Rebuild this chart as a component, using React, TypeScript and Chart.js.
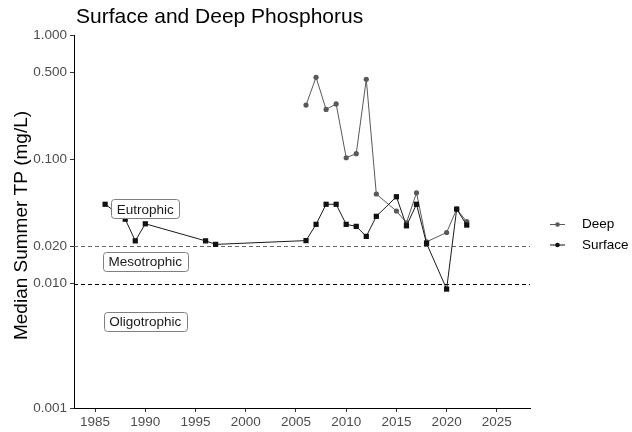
import React, { useEffect, useRef } from "react";
import { Chart, registerables } from "chart.js";

Chart.register(...registerables);

const titleText = "Surface and Deep Phosphorus";
const yAxisTitle = "Median Summer TP (mg/L)";

const surfaceYears = [1986, 1988, 1989, 1990, 1996, 1997, 2006, 2007, 2008, 2009, 2010, 2011, 2012, 2013, 2015, 2016, 2017, 2018, 2020, 2021, 2022];
const surfaceTP = [0.0435, 0.033, 0.0221, 0.0303, 0.0221, 0.0207, 0.0222, 0.03, 0.0435, 0.0435, 0.03, 0.0289, 0.024, 0.0348, 0.05, 0.0292, 0.0435, 0.0211, 0.00905, 0.0398, 0.0296];

const deepYears = [2006, 2007, 2008, 2009, 2010, 2011, 2012, 2013, 2015, 2016, 2017, 2018, 2020, 2021, 2022];
const deepTP = [0.273, 0.457, 0.252, 0.279, 0.103, 0.111, 0.44, 0.0526, 0.0384, 0.0309, 0.0538, 0.0217, 0.0258, 0.0398, 0.0315];

const yTicks = [0.001, 0.01, 0.02, 0.1, 0.5, 1];
const xTicks = [1985, 1990, 1995, 2000, 2005, 2010, 2015, 2020, 2025];

const thresholdValues = [0.02, 0.01];
const thresholdColors = ["#666666", "#000000"];

const trophicLabels = ["Eutrophic", "Mesotrophic", "Oligotrophic"];
const trophicX = 1990;
const trophicY = [0.04, 0.015, 0.005];

const legendLabels = ["Deep", "Surface"];
const legendColors = ["#595959", "#111111"];

const FONT = "'Liberation Sans', Arial, sans-serif";

const overlayPlugin = {
  id: "overlay",
  beforeDatasetsDraw(chart: any) {
    const { ctx, chartArea, scales } = chart;
    ctx.save();
    ctx.lineWidth = 1.2;
    ctx.setLineDash([4, 3]);
    thresholdValues.forEach((v, i) => {
      const y = Math.round(scales.y.getPixelForValue(v)) + 0.5;
      ctx.strokeStyle = thresholdColors[i];
      ctx.beginPath();
      ctx.moveTo(chartArea.left, y);
      ctx.lineTo(chartArea.right, y);
      ctx.stroke();
    });
    ctx.restore();
  },
  afterDatasetsDraw(chart: any) {
    const { ctx, scales } = chart;
    ctx.save();
    ctx.font = `13.5px ${FONT}`;
    ctx.textAlign = "center";
    ctx.textBaseline = "middle";
    trophicLabels.forEach((label, i) => {
      const cx = scales.x.getPixelForValue(trophicX);
      const cy = scales.y.getPixelForValue(trophicY[i]);
      const w = ctx.measureText(label).width + 11;
      const h = 19;
      const x0 = Math.round(cx - w / 2) + 0.5;
      const y0 = Math.round(cy - h / 2) + 0.5;
      ctx.beginPath();
      (ctx as any).roundRect(x0, y0, Math.round(w), h, 3);
      ctx.fillStyle = "#ffffff";
      ctx.fill();
      ctx.strokeStyle = "#7f7f7f";
      ctx.lineWidth = 1;
      ctx.stroke();
      ctx.fillStyle = "#1a1a1a";
      ctx.fillText(label, cx, cy + 1);
    });
    ctx.restore();
  },
  afterDraw(chart: any) {
    const { ctx, chartArea } = chart;
    ctx.save();
    ctx.font = `21px ${FONT}`;
    ctx.fillStyle = "#000000";
    ctx.textAlign = "left";
    ctx.textBaseline = "alphabetic";
    ctx.fillText(titleText, chartArea.left + 2, 23);
    ctx.save();
    ctx.translate(27, (chartArea.top + chartArea.bottom) / 2 + 4);
    ctx.rotate(-Math.PI / 2);
    ctx.font = `19px ${FONT}`;
    ctx.textAlign = "center";
    ctx.textBaseline = "alphabetic";
    ctx.fillText(yAxisTitle, 0, 0);
    ctx.restore();
    const ys = [224.5, 245];
    ctx.font = `13.5px ${FONT}`;
    ctx.textBaseline = "middle";
    legendLabels.forEach((label, i) => {
      const y = ys[i];
      ctx.strokeStyle = legendColors[i];
      ctx.lineWidth = 1;
      ctx.beginPath();
      ctx.moveTo(550, y);
      ctx.lineTo(565, y);
      ctx.stroke();
      ctx.fillStyle = legendColors[i];
      ctx.beginPath();
      ctx.arc(557.5, y, 2.3, 0, Math.PI * 2);
      ctx.fill();
      ctx.fillStyle = "#000000";
      ctx.fillText(label, 582, y);
    });
    ctx.restore();
  },
};

export default function App() {
  const ref = useRef<HTMLCanvasElement | null>(null);
  useEffect(() => {
    if (!ref.current) return;
    const chart = new Chart(ref.current, {
      type: "line",
      data: {
        datasets: [
          {
            label: "Surface",
            data: surfaceYears.map((x, i) => ({ x, y: surfaceTP[i] })),
            borderColor: "#1a1a1a",
            backgroundColor: "#111111",
            pointBackgroundColor: "#111111",
            pointBorderColor: "#111111",
            pointStyle: "rect",
            pointRadius: 3.7,
            pointBorderWidth: 0,
            borderWidth: 1,
            order: 0,
          },
          {
            label: "Deep",
            data: deepYears.map((x, i) => ({ x, y: deepTP[i] })),
            borderColor: "#595959",
            backgroundColor: "#595959",
            pointBackgroundColor: "#595959",
            pointBorderColor: "#595959",
            pointStyle: "circle",
            pointRadius: 2.6,
            pointBorderWidth: 0,
            borderWidth: 1,
            order: 1,
          },
        ],
      },
      options: {
        animation: false,
        responsive: false,
        maintainAspectRatio: false,
        layout: { padding: { left: 0, top: 35, right: 102, bottom: 0 } },
        plugins: {
          legend: { display: false },
          tooltip: { enabled: false },
          title: { display: false },
        },
        scales: {
          x: {
            type: "linear",
            min: 1982.9,
            max: 2028.3,
            afterFit: (s: any) => {
              s.height = 24;
            },
            afterBuildTicks: (s: any) => {
              s.ticks = xTicks.map((v) => ({ value: v }));
            },
            ticks: {
              autoSkip: false,
              maxRotation: 0,
              color: "#4d4d4d",
              font: { family: FONT, size: 13.5 },
              padding: 2,
              callback: (v: any) => String(v),
            },
            grid: { display: true, drawOnChartArea: false, drawTicks: true, tickLength: 4, color: "#333333" },
            border: { display: true, color: "#000000", width: 1 },
          },
          y: {
            type: "logarithmic",
            min: 0.001,
            max: 1,
            afterFit: (s: any) => {
              s.width = 74;
            },
            afterBuildTicks: (s: any) => {
              s.ticks = yTicks.map((v) => ({ value: v }));
            },
            ticks: {
              autoSkip: false,
              color: "#4d4d4d",
              font: { family: FONT, size: 13.5 },
              padding: 3,
              callback: (v: any) => Number(v).toFixed(3),
            },
            grid: { display: true, drawOnChartArea: false, drawTicks: true, tickLength: 4, color: "#333333" },
            border: { display: true, color: "#000000", width: 1 },
          },
        },
      },
      plugins: [overlayPlugin],
    });
    return () => chart.destroy();
  }, []);
  return (
    <div style={{ position: "fixed", left: 0, top: 0, width: 632, height: 432, background: "#fff" }}>
      <canvas ref={ref} width={632} height={432} style={{ width: 632, height: 432 }} />
    </div>
  );
}
